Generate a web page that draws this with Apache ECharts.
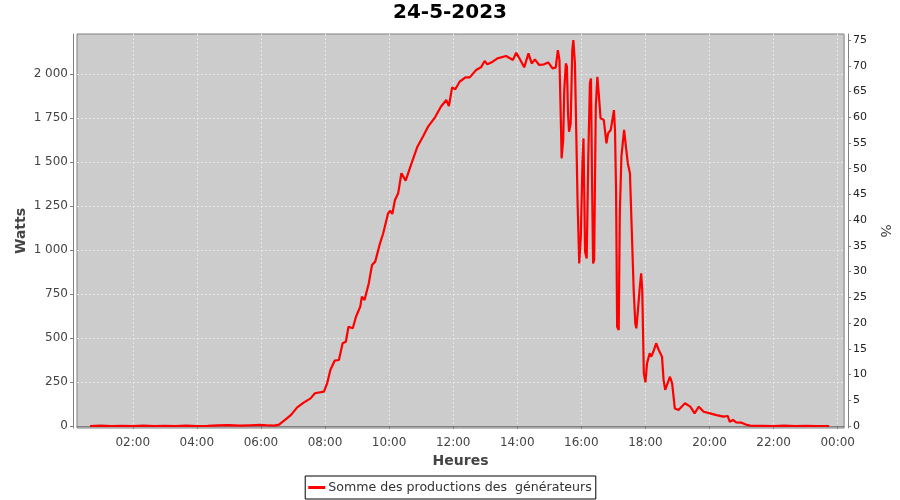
<!DOCTYPE html>
<html><head><meta charset="utf-8">
<script src="https://cdn.jsdelivr.net/npm/echarts@6/dist/echarts.min.js"></script>
<style>html,body{margin:0;padding:0;background:#fff}#c{width:900px;height:500px}</style>
</head><body><div id="c"></div>
<script>
const times = ["00:40","01:00","01:20","01:40","02:00","02:20","02:40","03:00","03:20","03:40","04:00","04:20","04:40","05:00","05:20","05:40","06:00","06:15","06:25","06:34","06:56","07:08","07:20","07:33","07:41","07:58","08:04","08:10","08:18","08:26","08:33","08:39","08:44","08:52","08:58","09:06","09:09","09:14","09:22","09:28","09:34","09:43","09:49","09:58","10:02","10:06","10:11","10:17","10:23","10:31","10:42","10:53","11:04","11:13","11:26","11:37","11:47","11:52","11:58","12:04","12:12","12:23","12:31","12:43","12:52","12:59","13:04","13:14","13:23","13:39","13:52","13:58","14:04","14:13","14:21","14:27","14:33","14:41","14:50","14:58","15:06","15:12","15:16","15:19","15:22","15:23","15:26","15:28","15:31","15:33","15:35","15:37","15:40","15:43","15:45","15:48","15:53","15:56","15:59","16:02","16:04","16:07","16:10","16:13","16:16","16:18","16:20","16:22","16:24","16:27","16:30","16:33","16:36","16:42","16:47","16:50","16:55","16:58","17:01","17:03","17:05","17:07","17:10","17:12","17:15","17:20","17:23","17:27","17:31","17:35","17:38","17:41","17:43","17:46","17:49","17:52","17:54","17:57","18:00","18:03","18:08","18:11","18:16","18:20","18:25","18:31","18:34","18:37","18:46","18:50","18:55","19:02","19:14","19:24","19:32","19:40","19:49","20:01","20:13","20:26","20:34","20:38","20:44","20:50","21:00","21:10","21:16","21:40","22:00","22:20","22:40","23:00","23:20","23:44"];
const watts = [0,2,0,1,0,2,0,1,0,2,0,1,3,5,2,4,6,3,2,8,62,106,133,157,186,195,242,318,371,375,470,479,564,555,621,678,735,716,811,915,934,1038,1095,1208,1223,1205,1284,1322,1436,1394,1492,1587,1648,1701,1754,1814,1852,1818,1924,1913,1956,1981,1981,2023,2038,2074,2055,2070,2089,2102,2080,2121,2089,2038,2117,2060,2083,2051,2055,2066,2032,2036,2136,2080,1682,1521,1625,1909,2060,2041,1776,1672,1719,2136,2193,2060,1265,924,1076,1492,1634,990,952,1530,1947,1975,1398,924,943,1814,1984,1871,1748,1739,1606,1663,1682,1672,1795,1682,1341,564,545,1208,1530,1682,1672,1492,1436,1057,773,583,555,659,773,868,773,299,248,356,413,394,432,470,432,394,261,205,280,242,100,91,129,110,72,110,81,72,62,53,57,24,34,21,19,6,2,1,0,2,0,1,0,0];
const hourTicks = ["02:00","04:00","06:00","08:00","10:00","12:00","14:00","16:00","18:00","20:00","22:00","00:00"];
const wattTicks = [0,250,500,750,1000,1250,1500,1750,2000];
const pctTicks = [0,5,10,15,20,25,30,35,40,45,50,55,60,65,70,75];
const title = "24-5-2023";
const seriesName = "Somme des productions des  générateurs";

function toHours(t){const p=t.split(':');return +p[0]+(+p[1])/60;}
const hourTickValues = hourTicks.map(t=>{const h=toHours(t);return h===0?24:h;});
const data = times.map((t,i)=>[toHours(t), watts[i]]);
const FONT = "DejaVu Sans";
const fmtW = v => { const s=String(Math.round(v)); return s.length>3 ? s.slice(0,-3)+' '+s.slice(-3) : s; };

const chart = echarts.init(document.getElementById('c'), null, {renderer:'canvas'});
chart.setOption({
  animation:false,
  backgroundColor:'#ffffff',
  title:{text:title,left:'center',top:3,padding:0,textStyle:{fontFamily:FONT,fontSize:20,fontWeight:'bold',color:'#000'}},
  legend:{data:[seriesName],left:'center',top:476,padding:[5,4,5,3],itemGap:0,itemWidth:17,itemHeight:3,icon:'rect',
    borderColor:'#000',borderWidth:1,backgroundColor:'#fff',borderRadius:0,
    textStyle:{fontFamily:FONT,fontSize:12.6,color:'#333',padding:[0,0,0,-2]}},
  grid:{left:77,right:52,top:34,bottom:72,show:true,backgroundColor:'#cccccc',borderColor:'#808080',borderWidth:1},
  xAxis:{type:'value',min:0.26,max:24.2,offset:4,
    name:'Heures',nameLocation:'middle',nameGap:21,nameTextStyle:{fontFamily:FONT,fontSize:14,fontWeight:'bold',color:'#444'},
    axisLine:{show:true,lineStyle:{color:'#808080',width:1}},
    axisTick:{show:true,length:3,lineStyle:{color:'#808080'},customValues:hourTickValues},
    axisLabel:{customValues:hourTickValues,margin:5,fontFamily:FONT,fontSize:12,color:'#444',
      formatter:v=>hourTicks[hourTickValues.indexOf(v)]||''},
    splitLine:{show:true,lineStyle:{color:'#e8e8e8',width:1,type:[2,2]}}},
  yAxis:[
    {type:'value',min:-11.36,max:2227.3,offset:4,position:'left',
      name:'Watts',nameLocation:'middle',nameGap:45,nameMoveOverlap:false,nameTextStyle:{fontFamily:FONT,fontSize:14,fontWeight:'bold',color:'#444'},
      axisLine:{show:true,lineStyle:{color:'#808080',width:1}},
      axisTick:{show:true,length:3,lineStyle:{color:'#808080'},customValues:wattTicks},
      axisLabel:{customValues:wattTicks,margin:5,fontFamily:FONT,fontSize:12,color:'#444',formatter:fmtW},
      splitLine:{show:true,lineStyle:{color:'#e8e8e8',width:1,type:[2,2]}}},
    {type:'value',min:-0.389,max:76.17,offset:4,position:'right',
      name:'%',nameLocation:'middle',nameGap:22,nameRotate:-90,nameTextStyle:{fontFamily:FONT,fontSize:14,color:'#444'},
      axisLine:{show:true,lineStyle:{color:'#808080',width:1}},
      axisTick:{show:true,length:3,lineStyle:{color:'#808080'},customValues:pctTicks},
      axisLabel:{customValues:pctTicks,margin:5,fontFamily:FONT,fontSize:11,color:'#222'},
      splitLine:{show:false}}
  ],
  series:[{name:seriesName,type:'line',yAxisIndex:0,data:data,showSymbol:false,smooth:false,
    lineStyle:{color:'#ff0000',width:2.2},itemStyle:{color:'#ff0000'}}]
});
</script></body></html>
